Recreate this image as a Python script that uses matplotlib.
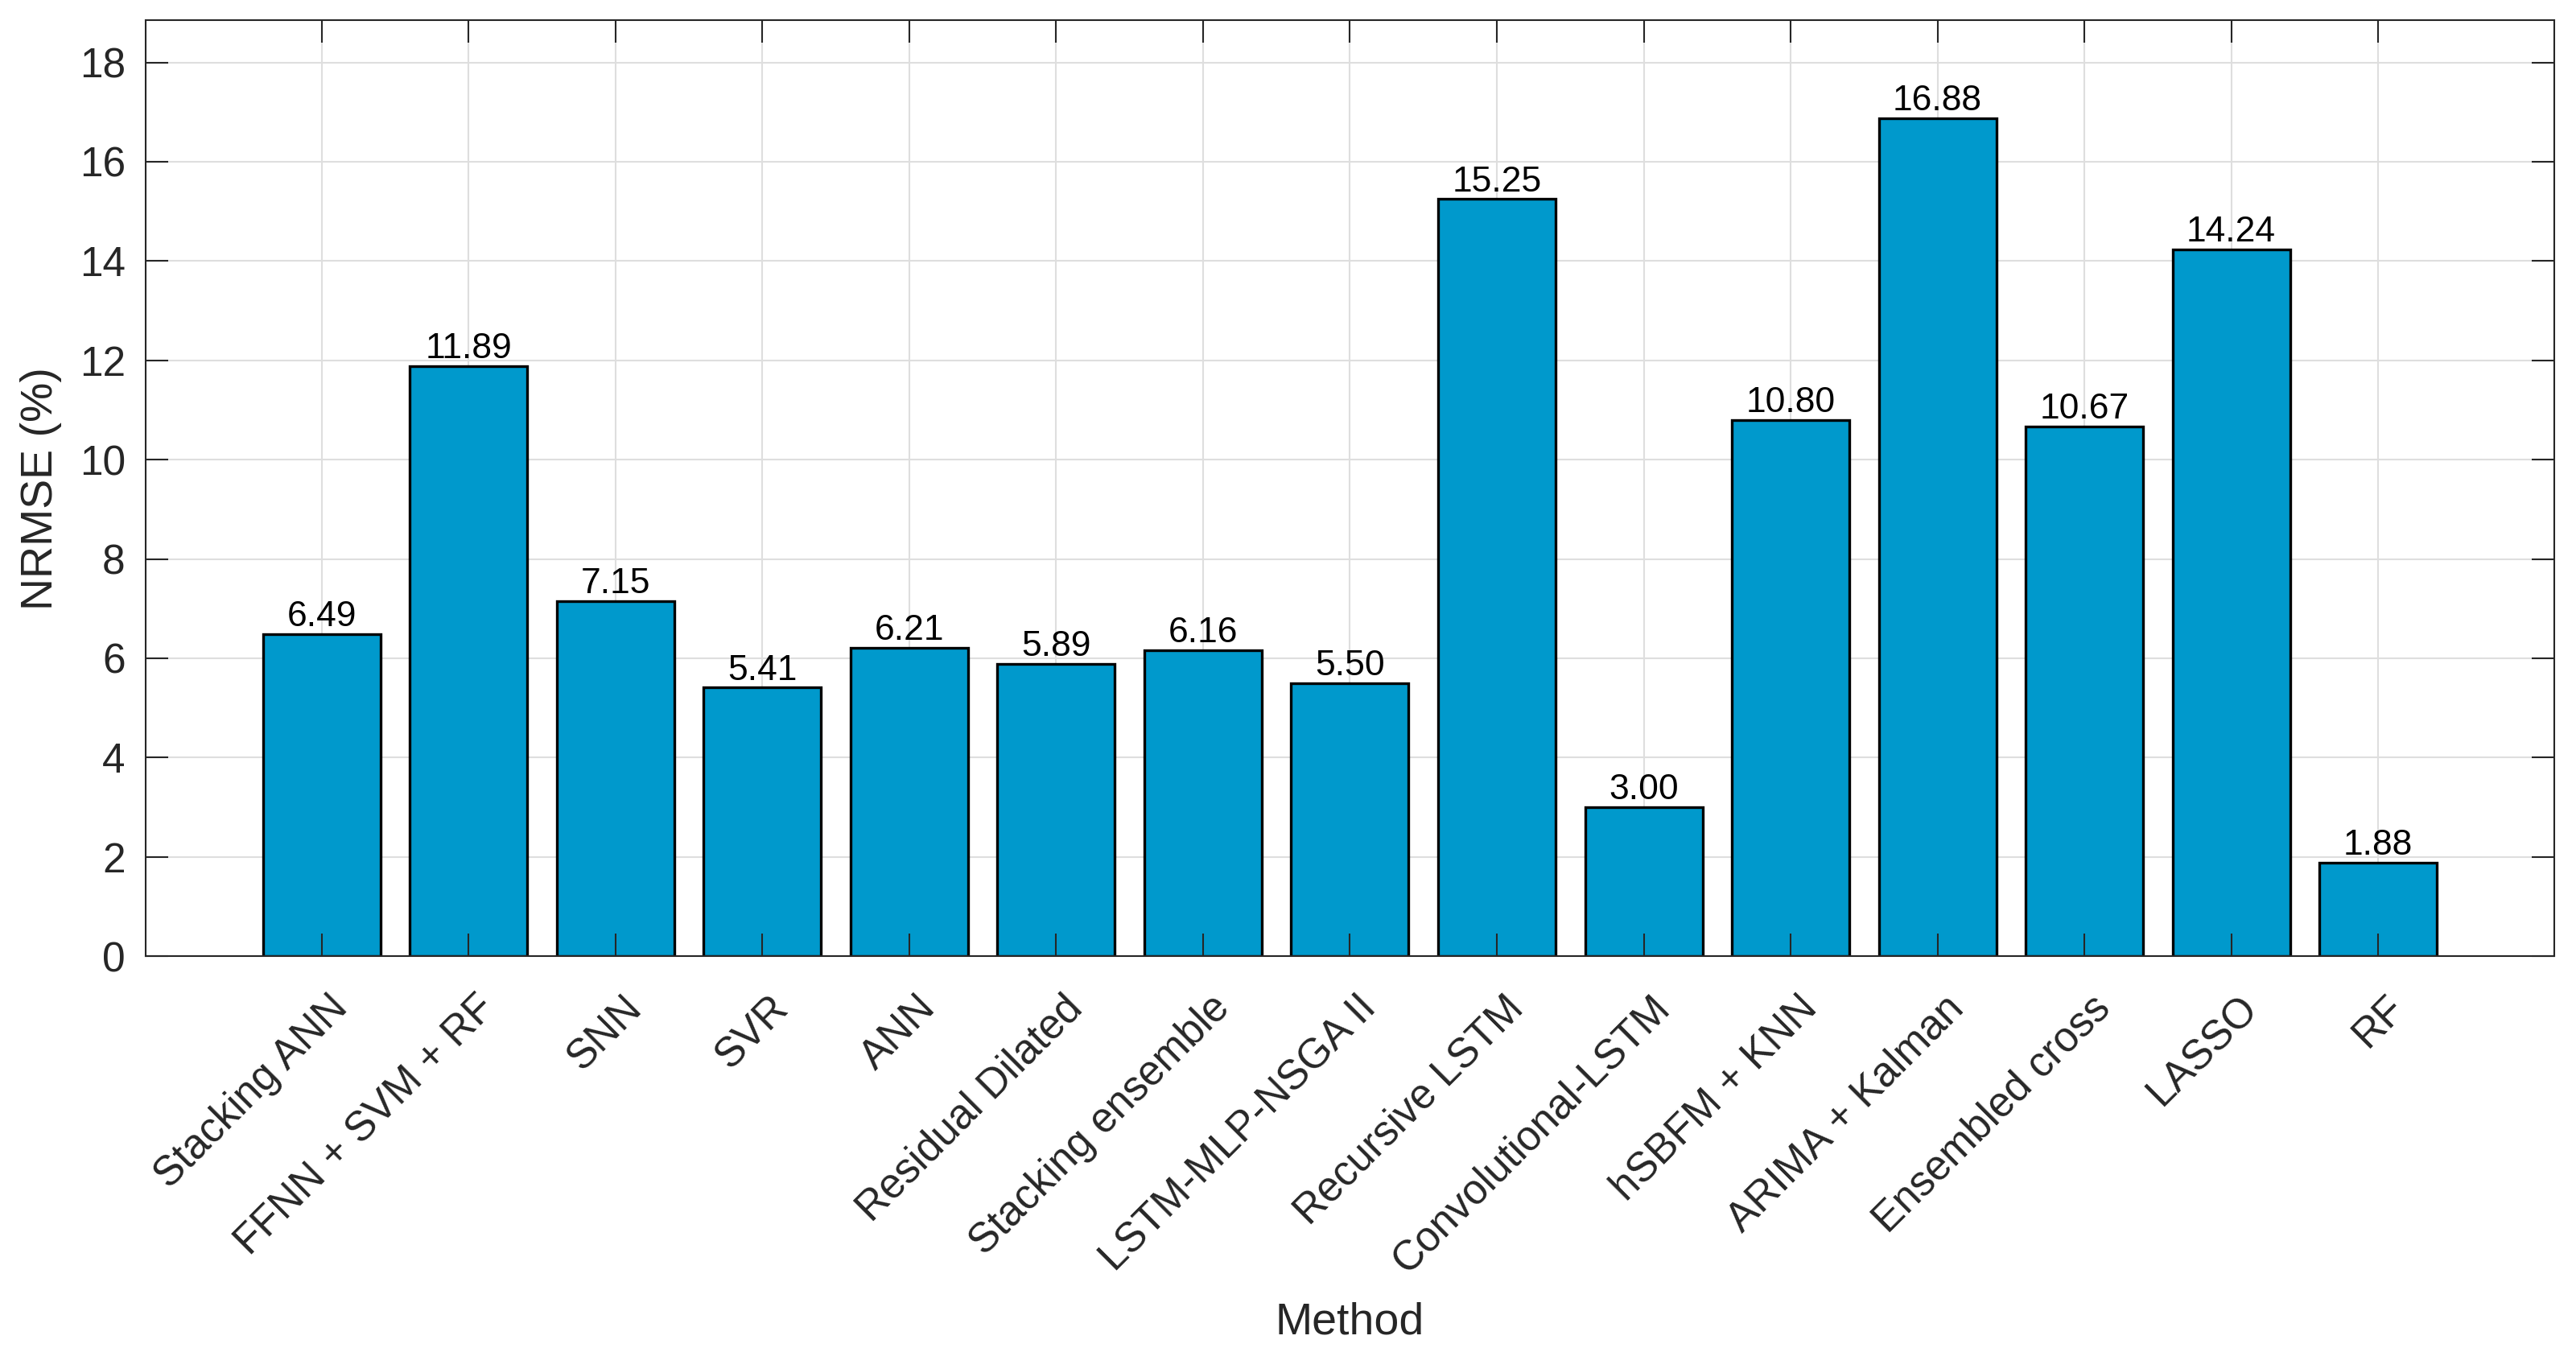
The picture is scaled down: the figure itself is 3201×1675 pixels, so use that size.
import matplotlib.pyplot as plt
import matplotlib.transforms as mtransforms

# Data
methods = ['Stacking ANN', 'FFNN + SVM + RF', 'SNN', 'SVR', 'ANN', 'Residual Dilated',
           'Stacking ensemble', 'LSTM-MLP-NSGA II', 'Recursive LSTM', 'Convolutional-LSTM',
           'hSBFM + KNN', 'ARIMA + Kalman', 'Ensembled cross', 'LASSO', 'RF']
nrmse = [6.49, 11.89, 7.15, 5.41, 6.21, 5.89, 6.16, 5.50, 15.25, 3.00,
         10.80, 16.88, 10.67, 14.24, 1.88]
yticks = [0, 2, 4, 6, 8, 10, 12, 14, 16, 18]

plt.rcParams['font.family'] = ['Liberation Sans', 'DejaVu Sans']
axis_color = '#262626'

fig = plt.figure(figsize=(32.01, 16.75), dpi=100)
ax = fig.add_axes([0.0565, 0.2907, 0.9351, 0.6943])

x = list(range(1, len(methods) + 1))
ax.bar(x, nrmse, width=0.8, color='#0099CC', edgecolor='black', linewidth=2.4, zorder=1)

# grid below bars, ticks above
for yt in yticks:
    ax.axhline(yt, color='#DEDEDE', linewidth=1.5, zorder=0.5)
for xt in x:
    ax.axvline(xt, color='#DEDEDE', linewidth=1.5, zorder=0.5)

# value labels
for xi, v in zip(x, nrmse):
    ax.annotate(f'{v:.2f}', (xi, v), xytext=(0, 7), textcoords='offset points',
                ha='center', va='baseline', fontsize=32, color='black')

ax.set_xlim(-0.2, 16.2)
ax.set_ylim(0, 18.85)
ax.set_yticks(yticks)
ax.set_xticks(x)
ax.set_xticklabels([])

ax.tick_params(axis='both', direction='in', length=20, width=1.5, colors=axis_color,
               top=True, right=True)
ax.tick_params(axis='y', labelsize=37, pad=18)
for s in ax.spines.values():
    s.set_linewidth(1.5)
    s.set_color(axis_color)

# rotated category labels (MATLAB-style placement)
offset = mtransforms.ScaledTranslation(25 / 72, -48 / 72, fig.dpi_scale_trans)
for xi, name in zip(x, methods):
    ax.text(xi, 0, name, transform=ax.get_xaxis_transform() + offset,
            rotation=45, rotation_mode='anchor', ha='right', va='baseline',
            fontsize=37, color=axis_color)

ax.set_ylabel('NRMSE (%)', fontsize=40, color=axis_color)
ax.yaxis.set_label_coords(-0.0434, 0.5)
ax.yaxis.label.set_va('center')
ax.set_xlabel('Method', fontsize=40, color=axis_color)
ax.xaxis.set_label_coords(0.5, -0.392)
ax.xaxis.label.set_va('center')

fig.savefig('out.png', dpi=100)
